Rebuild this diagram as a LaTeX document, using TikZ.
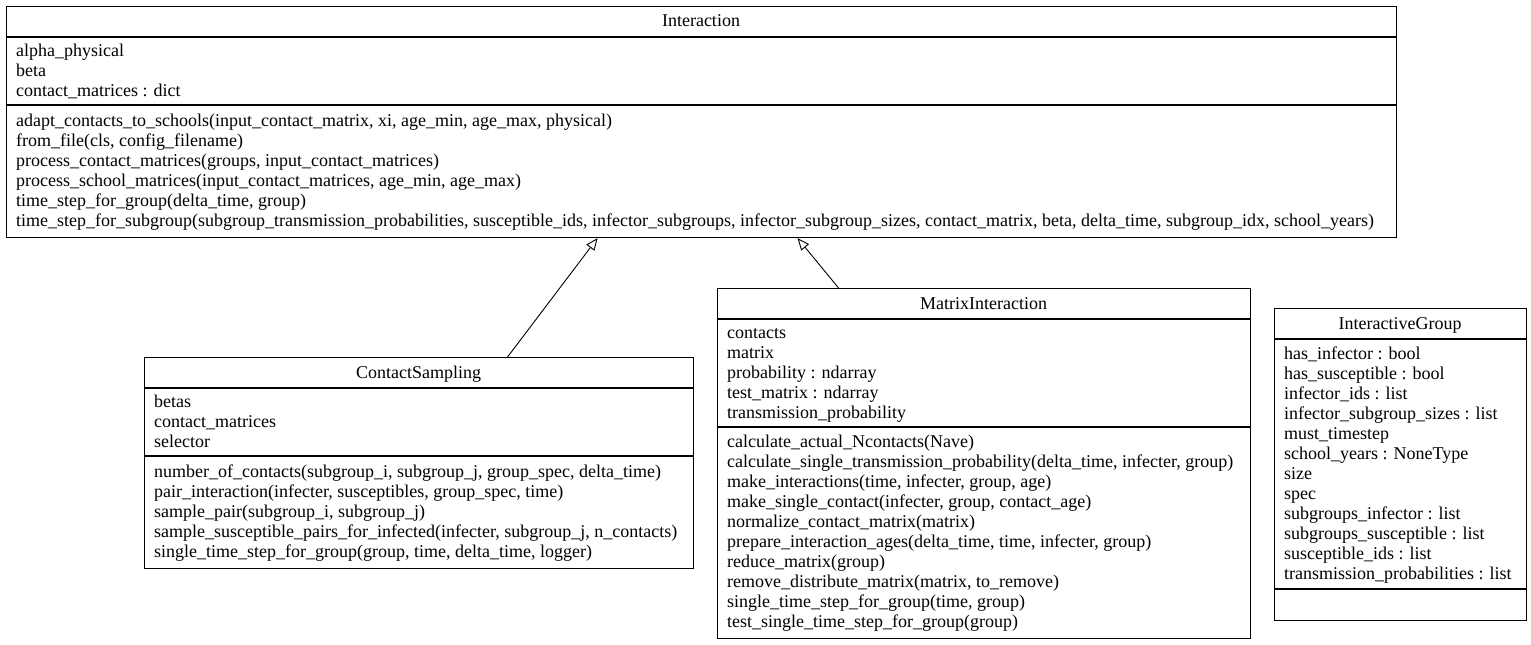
\documentclass[tikz,border=0pt]{standalone}
\usepackage{fontspec}
\setmainfont{Liberation Serif}
\usetikzlibrary{arrows.meta}

% one class text line, placed on its baseline
\tikzset{
  classbox/.style={draw, line width=1.1pt, anchor=north west, inner sep=0pt},
  classtitle/.style={anchor=base, inner sep=0pt},
  classline/.style={anchor=base west, inner sep=0pt},
  inherits/.style={line width=0.9pt, -{Triangle[open, length=12pt, width=10pt]}}
}

% lines of one compartment: prefix, x, first baseline, list
\newcommand{\classlines}[4]{%
  \foreach \txt [count=\i] in {#4} {
    \node[classline] (#1-\i) at (#2, #3+\i*20-20) {\txt};
  }%
}

\begin{document}
\begin{tikzpicture}[x=1pt, y=-1pt, font=\fontsize{18}{20}\selectfont]

  \useasboundingbox (0,0) rectangle (1531,645);

  % Define row properties
  \def\titleheight{31}

  % Interaction
  \node[classbox, minimum width=1390pt, minimum height=231pt] (interaction) at (6,6) {};
  \node[classtitle] (interaction-title) at (701,27) {Interaction};
  \draw[line width=1.1pt] (interaction.west |- 0,37) -- (interaction.east |- 0,37);
  \draw[line width=1.1pt] (interaction.west |- 0,105) -- (interaction.east |- 0,105);
  \classlines{interaction-attr}{16}{56}{alpha\_physical, beta, contact\_matrices : dict}
  \classlines{interaction-op}{16}{126}{
    {adapt\_contacts\_to\_schools(input\_contact\_matrix, xi, age\_min, age\_max, physical)},
    {from\_file(cls, config\_filename)},
    {process\_contact\_matrices(groups, input\_contact\_matrices)},
    {process\_school\_matrices(input\_contact\_matrices, age\_min, age\_max)},
    {time\_step\_for\_group(delta\_time, group)},
    {time\_step\_for\_subgroup(subgroup\_transmission\_probabilities, susceptible\_ids, infector\_subgroups, infector\_subgroup\_sizes, contact\_matrix, beta, delta\_time, subgroup\_idx, school\_years)}}

  % ContactSampling
  \node[classbox, minimum width=549pt, minimum height=211pt] (contactsampling) at (144,357) {};
  \node[classtitle] (contactsampling-title) at (418.5,378) {ContactSampling};
  \draw[line width=1.1pt] (contactsampling.west |- 0,388) -- (contactsampling.east |- 0,388);
  \draw[line width=1.1pt] (contactsampling.west |- 0,456) -- (contactsampling.east |- 0,456);
  \classlines{contactsampling-attr}{154}{407}{betas, contact\_matrices, selector}
  \classlines{contactsampling-op}{154}{477}{
    {number\_of\_contacts(subgroup\_i, subgroup\_j, group\_spec, delta\_time)},
    {pair\_interaction(infecter, susceptibles, group\_spec, time)},
    {sample\_pair(subgroup\_i, subgroup\_j)},
    {sample\_susceptible\_pairs\_for\_infected(infecter, subgroup\_j, n\_contacts)},
    {single\_time\_step\_for\_group(group, time, delta\_time, logger)}}

  % MatrixInteraction
  \node[classbox, minimum width=533pt, minimum height=350pt] (matrixinteraction) at (717,288) {};
  \node[classtitle] (matrixinteraction-title) at (983.5,309) {MatrixInteraction};
  \draw[line width=1.1pt] (matrixinteraction.west |- 0,319) -- (matrixinteraction.east |- 0,319);
  \draw[line width=1.1pt] (matrixinteraction.west |- 0,427) -- (matrixinteraction.east |- 0,427);
  \classlines{matrixinteraction-attr}{727}{338}{contacts, matrix, probability : ndarray,
    test\_matrix : ndarray, transmission\_probability}
  \classlines{matrixinteraction-op}{727}{447.5}{
    {calculate\_actual\_Ncontacts(Nave)},
    {calculate\_single\_transmission\_probability(delta\_time, infecter, group)},
    {make\_interactions(time, infecter, group, age)},
    {make\_single\_contact(infecter, group, contact\_age)},
    {normalize\_contact\_matrix(matrix)},
    {prepare\_interaction\_ages(delta\_time, time, infecter, group)},
    {reduce\_matrix(group)},
    {remove\_distribute\_matrix(matrix, to\_remove)},
    {single\_time\_step\_for\_group(time, group)},
    {test\_single\_time\_step\_for\_group(group)}}

  % InteractiveGroup
  \node[classbox, minimum width=252pt, minimum height=312pt] (interactivegroup) at (1274,308) {};
  \node[classtitle] (interactivegroup-title) at (1400,329) {InteractiveGroup};
  \draw[line width=1.1pt] (interactivegroup.west |- 0,339) -- (interactivegroup.east |- 0,339);
  \draw[line width=1.1pt] (interactivegroup.west |- 0,589) -- (interactivegroup.east |- 0,589);
  \classlines{interactivegroup-attr}{1284}{359}{has\_infector : bool, has\_susceptible : bool,
    infector\_ids : list, infector\_subgroup\_sizes : list, must\_timestep,
    school\_years : NoneType, size, spec, subgroups\_infector : list,
    subgroups\_susceptible : list, susceptible\_ids : list, transmission\_probabilities : list}

  % Inheritance arrows
  \draw[inherits] ([xshift=88.5pt]contactsampling.north) -- ([xshift=-104pt]interaction.south);
  \draw[inherits] ([xshift=-145.5pt]matrixinteraction.north) -- ([xshift=96pt]interaction.south);

\end{tikzpicture}
\end{document}
